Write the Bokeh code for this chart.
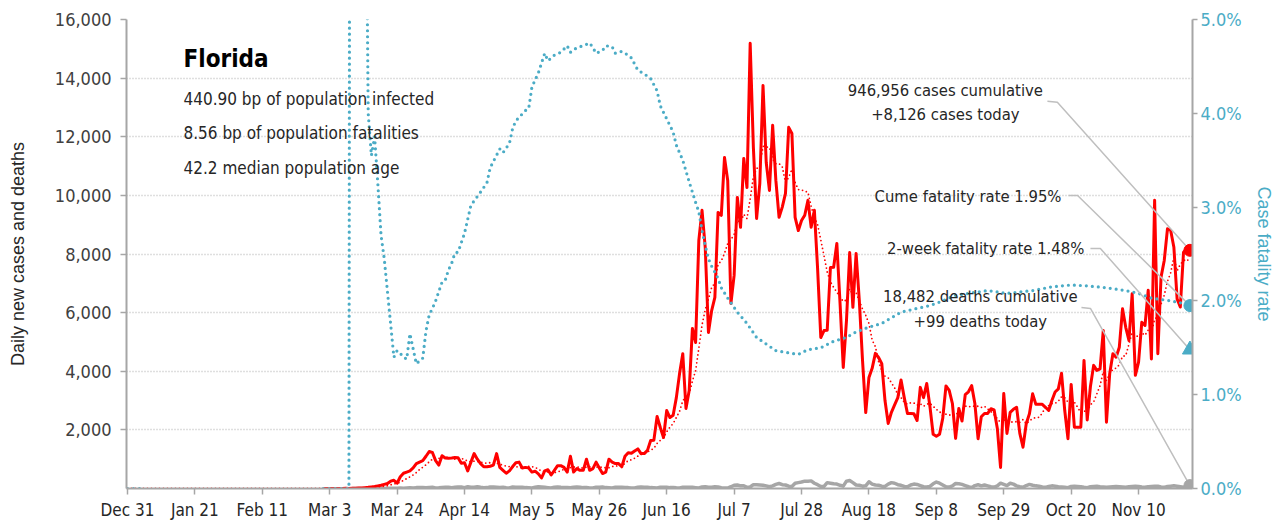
import numpy as np
import pandas as pd
from bokeh.plotting import figure
from bokeh.models import (Range1d, LinearAxis, FixedTicker, NumeralTickFormatter,
                          PrintfTickFormatter, Label)
from bokeh.embed import file_html
from bokeh.resources import INLINE

# ---------------- data ----------------
series_start = "2019-12-31"          # first day on the x axis
cases_start = "2020-03-01"
daily_cases = [
    0, 0, 1, 1, 2, 2, 4, 5, 4,
    7, 10, 15, 20, 30, 40, 55, 70, 90, 110,
    140, 170, 250, 280, 180, 400, 520, 560, 600, 700,
    850, 900, 950, 1100, 1260, 1230, 950, 800, 1120, 1040,
    1030, 1040, 1055, 1050, 860, 880, 600, 900, 1190, 1000,
    850, 740, 740, 760, 800, 1190, 720, 620, 520, 600,
    750, 880, 900, 700, 720, 700, 560, 590, 500, 360,
    600, 640, 460, 620, 780, 780, 720, 560, 1100, 560,
    680, 620, 620, 1000, 620, 680, 900, 700, 510, 560,
    1000, 900, 850, 850, 740, 1100, 1220, 1200, 1280, 1350,
    1190, 1190, 1300, 1640, 1650, 2460, 2080, 1740, 2660, 2420,
    2500, 3100, 3920, 4600, 2730, 3340, 5460, 4980, 8460, 9490,
    8220, 5320, 6070, 6520, 9420, 9320, 11290, 10510, 6310, 7270,
    9930, 8910, 11260, 10270, 15190, 11630, 9210, 10410, 13750, 11120,
    10170, 12390, 10510, 9250, 9600, 10070, 12320, 12110, 9250, 8800,
    9140, 9320, 9830, 8910, 9490, 7510, 5150, 5390, 5400, 7540,
    7550, 8360, 6310, 4130, 5730, 8050, 6180, 8020, 6410, 4370,
    2590, 3790, 4100, 4610, 4470, 4260, 3000, 2220, 2600, 2850,
    3100, 3700, 3100, 2560, 2560, 2550, 2320, 3450, 3100, 3580,
    2800, 1850, 1780, 1850, 2400, 3500, 3350, 2900, 1710, 2730,
    2300, 3200, 3300, 3510, 2900, 1700, 2450, 2560, 2560, 2720,
    2680, 2050, 720, 3240, 1880, 2600, 2700, 2770, 1880, 1410,
    2210, 2550, 3230, 2870, 2870, 2870, 2770, 2660, 3000, 3290,
    3400, 3930, 2660, 1700, 3550, 2090, 2090, 2090, 4370, 2340,
    3480, 4200, 4030, 4080, 5390, 2260, 3910, 4600, 4480, 4820,
    6130, 5500, 5050, 6640, 3860, 4310, 5670, 5560, 6760, 4420,
    9830, 4600, 7210, 7780, 8860, 8800, 8230, 6470, 6190, 8060,
    8180, 8126,
]

deaths_start = "2020-03-10"
daily_deaths = [
    2, 1, 1, 1, 2, 2, 3, 3, 4, 5, 4, 7, 8, 10, 12, 15, 10, 20, 25, 20, 30, 35,
    30, 25, 35, 40, 20, 25, 35, 40, 45, 30, 40, 50, 50, 30, 60, 40, 45, 60, 40, 25,
    30, 50, 55, 45, 35, 40, 25, 20, 50, 45,
    40, 45, 30, 25, 20, 40, 60, 50, 40, 30, 20, 45, 55, 40, 35, 30, 25, 45, 50, 40,
    30, 35, 20, 15, 40, 45, 50, 30, 25, 20, 40,
    45, 40, 35, 30, 20, 15, 40, 50, 45, 40, 30, 25, 20, 40, 45, 40, 30, 35, 25, 20,
    40, 45, 45, 40, 30, 20, 50, 60, 40, 45,
    60, 55, 30, 20, 15, 60, 110, 120, 90, 95, 40, 50, 130, 130, 120, 110, 90, 60,
    90, 140, 170, 130, 120, 80, 70, 180, 200, 220, 250, 250, 260,
    180, 130, 70, 75, 200, 180, 160, 150, 110, 80, 250, 270, 200, 120, 110, 80, 90,
    230, 150, 120, 110, 80, 70, 150, 200, 180, 130, 110, 70, 60, 120,
    150, 140, 100, 60, 50, 70, 160, 220, 180, 120, 60, 50, 90, 170, 160, 140, 100,
    60, 30, 100, 130, 90, 120, 90, 60, 50, 90, 180, 140, 100,
    180, 150, 90, 60, 40, 100, 140, 110, 90, 80, 50, 40, 70, 90, 80, 60, 50, 40, 30,
    70, 80, 70, 60, 40, 30, 60, 70, 75, 60, 50, 40,
    50, 60, 70, 60, 50, 40, 60, 70, 80, 70, 50, 40, 60, 70, 80, 75, 50, 40, 70, 80,
    90, 80, 60, 40, 90, 99,
]

# case fatality rate (%), sampled along the curve: day number since Dec 31 2019
cfr_day = [0, 5, 6, 61, 69, 70, 74, 75, 76, 77, 78, 79, 80, 81, 82, 83, 84, 85, 86,
           87, 88, 89, 90, 91, 92, 93, 94, 95, 96, 97, 98, 99, 100, 101, 102, 103,
           105, 107, 110, 112, 113, 116, 117, 119, 120, 121, 124, 125, 126, 128,
           130, 131, 133, 135, 137, 138, 140, 142, 144, 145, 146, 148, 149, 151,
           152, 154, 156, 157, 159, 161, 163, 165, 166, 168, 170, 171, 173, 175,
           177, 178, 179, 180, 181, 182, 184, 185, 187, 188, 190, 193, 196, 199,
           202, 207, 209, 212, 216, 220, 224, 227, 231, 235, 241, 246, 250, 254,
           258, 262, 268, 274, 282, 288, 294, 299, 305, 311, 315, 319, 325, 328, 331]
cfr_pct = [0, 0, float("nan"), 0, 0, 30, 8, 4.0, 3.55, 3.75, 3.25, 2.7, 2.45, 2.1,
           1.75, 1.40, 1.47, 1.44, 1.40, 1.38, 1.65, 1.49, 1.33, 1.36, 1.39, 1.68,
           1.85, 1.92, 2.0, 2.1, 2.2, 2.22, 2.33, 2.40, 2.51, 2.52,
           2.72, 3.02, 3.16, 3.26, 3.42, 3.62, 3.58, 3.68, 3.84, 3.92, 4.03, 4.05,
           4.28, 4.43, 4.64, 4.56, 4.62, 4.65, 4.72, 4.65, 4.70, 4.72, 4.75, 4.70,
           4.64, 4.67, 4.72, 4.71, 4.64, 4.66, 4.62, 4.59, 4.46, 4.42, 4.37, 4.24,
           4.08, 3.94, 3.80, 3.66, 3.50, 3.27, 3.05, 2.95, 2.75, 2.59, 2.45, 2.37,
           2.24, 2.14, 2.03, 1.98, 1.88, 1.76, 1.61, 1.54, 1.47, 1.44, 1.43, 1.48,
           1.50, 1.57, 1.61, 1.67, 1.72, 1.76, 1.88, 1.92, 1.95, 2.00, 2.06, 2.08,
           2.11, 2.08, 2.11, 2.15, 2.17, 2.16, 2.14, 2.11, 2.08, 2.03, 2.00, 1.98, 1.95]

two_week_rate = 1.48
cum_cases = 946956
cum_deaths = 18482
state = "Florida"
facts = ["440.90 bp of population infected",
         "8.56 bp of population fatalities",
         "42.2 median population age"]

tick_days = [0, 21, 42, 63, 84, 105, 126, 147, 168, 189, 210, 231, 252, 273, 294, 315]
tick_labels = ["Dec 31", "Jan 21", "Feb 11", "Mar 3", "Mar 24", "Apr 14", "May 5",
               "May 26", "Jun 16", "Jul 7", "Jul 28", "Aug 18", "Sep 8", "Sep 29",
               "Oct 20", "Nov 10"]

# ---------------- derived ----------------
t0 = pd.Timestamp(series_start)
c0 = (pd.Timestamp(cases_start) - t0).days
d0 = (pd.Timestamp(deaths_start) - t0).days
cases_x = c0 + np.arange(len(daily_cases))
deaths_x = d0 + np.arange(len(daily_deaths))
full_cases = np.concatenate([np.zeros(c0), np.array(daily_cases, float)])
avg7 = pd.Series(full_cases).rolling(7, min_periods=1).mean().values
avg_x = np.arange(len(full_cases))
last_day = int(cases_x[-1])

RED = "#FF0000"
BLUE = "#4BACC6"
GRAY = "#A6A6A6"
LEAD = "#BFBFBF"
TXT = "#262626"
NARROW = "DejaVu Sans Condensed, Roboto"
REG = "Liberation Sans"

YMAX = 16000
PMAX = 5.0

p = figure(width=1281, height=529, x_range=Range1d(-0.3, 331.8), y_range=Range1d(0, YMAX),
           output_backend="svg", toolbar_location=None,
           min_border_left=126, min_border_right=89, min_border_top=19, min_border_bottom=41,
           background_fill_color="white", border_fill_color="white")
p.outline_line_color = None
p.xgrid.visible = False
p.extra_y_ranges = {"cfr": Range1d(0, PMAX)}

# axes
xa = p.xaxis[0]
xa.ticker = FixedTicker(ticks=tick_days)
xa.major_label_overrides = {d: l for d, l in zip(tick_days, tick_labels)}
ya = p.yaxis[0]
ya.ticker = FixedTicker(ticks=list(range(2000, YMAX + 1, 2000)))
ya.formatter = NumeralTickFormatter(format="0,0")
ya.axis_label = "Daily new cases and deaths"
ra = LinearAxis(y_range_name="cfr", ticker=FixedTicker(ticks=[0, 1, 2, 3, 4, 5]),
                formatter=PrintfTickFormatter(format="%.1f%%"),
                axis_label="Case fatality rate")
p.add_layout(ra, "right")

for ax in (xa, ya, ra):
    ax.axis_line_color = GRAY
    ax.axis_line_width = 2
    ax.major_tick_line_color = GRAY
    ax.major_tick_line_width = 1.5
    ax.major_tick_in = 0
    ax.minor_tick_line_color = None
    ax.major_label_text_font = NARROW
    ax.major_label_text_font_size = "18px"
    ax.major_label_text_color = "#404040"
    ax.axis_label_text_font = REG
    ax.axis_label_text_font_style = "normal"
    ax.axis_label_text_font_size = "18px"
xa.major_tick_out = 6
xa.major_label_standoff = 5
xa.major_label_text_font_size = "17px"
xa.major_label_text_color = TXT
ya.major_tick_out = 6
ya.major_label_standoff = 9
ya.axis_label_standoff = 24
ya.axis_label_text_color = TXT
ra.major_tick_out = 5
ra.major_label_standoff = 3
ra.major_label_text_color = BLUE
ra.axis_label_text_color = BLUE
ra.axis_label_standoff = 9

p.ygrid.grid_line_color = LEAD
p.ygrid.grid_line_dash = "1 2"
p.ygrid.grid_line_width = 1.5

# series
p.line(deaths_x, daily_deaths, line_color=GRAY, line_width=3.5, line_join="round")
p.line(cases_x, daily_cases, line_color=RED, line_width=3, line_join="round")
p.line(avg_x, avg7, line_color=RED, line_width=1.8, line_dash="0 4", line_cap="round")
p.line(cfr_day, cfr_pct, y_range_name="cfr", line_color=BLUE, line_width=3.2,
       line_dash="0 6", line_cap="round")

# leader lines (anchor near the text, end at the latest value)
last_cfr_left = cfr_pct[-1] / PMAX * YMAX
two_week_left = two_week_rate / PMAX * YMAX
leaders = [
    ([286.6, 289.7], [13213, 13179], daily_cases[-1]),
    ([293.2, 296.0], [9996, 9996], last_cfr_left),
    ([300.0, 303.1], [8188, 8188], two_week_left),
    ([297.2, 300.0], [6175, 6141], daily_deaths[-1]),
]
for xs, ys, yend in leaders:
    p.line(xs + [last_day], ys + [yend], line_color=LEAD, line_width=1.5)

# end markers
p.scatter([last_day], [daily_deaths[-1]], size=12, color=GRAY)
p.scatter([last_day], [daily_cases[-1]], size=12, color=RED)
p.scatter([last_day], [cfr_pct[-1]], y_range_name="cfr", size=12, color=BLUE)
p.scatter([last_day], [two_week_rate], y_range_name="cfr", size=15, marker="triangle",
          color=BLUE)

# texts
def lab(x, y, text, size="16.5px", align="left", style="normal", color=TXT, font=NARROW):
    p.add_layout(Label(x=x, y=y, text=text, text_font=font, text_font_size=size,
                       text_align=align, text_baseline="middle",
                       text_font_style=style, text_color=color))

lab(17.46, 14669, state, size="24px", style="bold", color="#000000")
for txt, yy in zip(facts, [13271, 12111, 10917]):
    lab(17.46, yy, txt, size="17px")

lab(254.8, 13578, f"{cum_cases:,} cases cumulative", align="center")
lab(254.8, 12759, f"+{daily_cases[-1]:,} cases today", align="center")
lab(290.98, 9962, f"Cume fatality rate {cfr_pct[-1]:.2f}%", align="right")
lab(298.1, 8188, f"2-week fatality rate {two_week_rate:.2f}%", align="right")
lab(265.7, 6550, f"{cum_deaths:,} deaths cumulative", align="center")
lab(265.7, 5697, f"+{daily_deaths[-1]:,} deaths today", align="center")

open("out.html", "w").write(file_html(p, INLINE))
